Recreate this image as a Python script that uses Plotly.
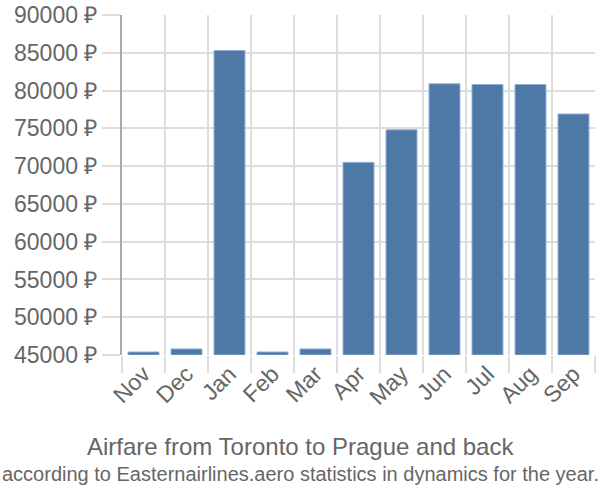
import plotly.graph_objects as go

# Data
months = ['Nov', 'Dec', 'Jan', 'Feb', 'Mar', 'Apr', 'May', 'Jun', 'Jul', 'Aug', 'Sep']
prices = [45400, 45800, 85300, 45400, 45800, 70500, 74800, 80900, 80800, 80800, 76900]
y_ticks = list(range(45000, 90001, 5000))
y_labels = [f'{v} ₽' for v in y_ticks]

fig = go.Figure()

fig.add_trace(go.Bar(
    x=months,
    y=[p - 45000 for p in prices],
    base=45000,
    marker=dict(color='#4e79a7', line=dict(color='#8fb0d3', width=1)),
    width=0.72,
))

fig.update_layout(
    width=600, height=500,
    margin=dict(l=122, r=5, t=15, b=145, autoexpand=False),
    plot_bgcolor='white', paper_bgcolor='white',
    font=dict(family='Liberation Sans, Arial, sans-serif', color='#666666'),
    showlegend=False,
    xaxis=dict(
        type='category',
        tickson='boundaries',
        showgrid=True, gridcolor='#dddddd', gridwidth=2,
        ticks='outside', ticklen=17, tickcolor='#dddddd', tickwidth=2,
        tickangle=-45,
        tickfont=dict(size=23, color='#666666'),
        showline=False,
        automargin=False,
    ),
    yaxis=dict(
        range=[45000, 90000],
        tickvals=y_ticks, ticktext=y_labels,
        showgrid=True, gridcolor='#dddddd', gridwidth=2,
        ticks='outside', ticklen=18, tickcolor='#dddddd', tickwidth=2,
        tickfont=dict(size=23, color='#666666'),
        showline=True, linecolor='#aaaaaa', linewidth=2,
        zeroline=False,
        automargin=False,
    ),
    annotations=[
        dict(text='Airfare from Toronto to Prague and back',
             xref='paper', yref='paper', showarrow=False,
             font=dict(size=24, color='#666666')),
        dict(text='according to Easternairlines.aero statistics in dynamics for the year.',
             xref='paper', yref='paper', showarrow=False,
             font=dict(size=20, color='#666666')),
    ],
)

# place the title lines in pixel positions by converting to paper coords
plot_h = 500 - 15 - 145
for ann, ypix in zip(fig.layout.annotations, [446, 474]):
    ann.y = (500 - 145 - ypix) / plot_h
    ann.yanchor = 'middle'
    ann.x = (300 - 122) / (600 - 122 - 5)
    ann.xanchor = 'center'

# page body has a default margin; drop it so the figure fills the window
fig.write_html("out.html", config={'displayModeBar': False},
               post_script="document.body.style.margin='0';")
